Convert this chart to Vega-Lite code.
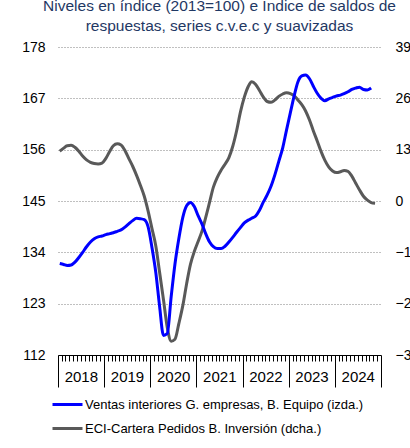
{
  "$schema": "https://vega.github.io/schema/vega-lite/v6.json",
  "width": 323,
  "height": 308,
  "autosize": {"type": "none"},
  "padding": {"left": 58, "top": 47, "right": 29, "bottom": 93},
  "background": "white",
  "config": {"font": "Liberation Sans", "view": {"stroke": null}},
  "title": {
    "text": ["Niveles en índice (2013=100) e Índice de saldos de", "respuestas, series c.v.e.c y suavizadas"],
    "fontSize": 15.5,
    "font": "Liberation Sans",
    "fontWeight": "normal",
    "color": "#1F3864",
    "lineHeight": 20,
    "anchor": "middle",
    "offset": 6
  },
  "data": {
    "values": [
      {"fecha": "2018-01-15", "ventas": 131.6, "eci": 12.6},
      {"fecha": "2018-02-15", "ventas": 131.4, "eci": 13.4},
      {"fecha": "2018-03-15", "ventas": 131.2, "eci": 14.0},
      {"fecha": "2018-04-15", "ventas": 131.3, "eci": 14.1},
      {"fecha": "2018-05-15", "ventas": 131.9, "eci": 13.6},
      {"fecha": "2018-06-15", "ventas": 132.9, "eci": 12.6},
      {"fecha": "2018-07-15", "ventas": 134.0, "eci": 11.4},
      {"fecha": "2018-08-15", "ventas": 135.2, "eci": 10.4},
      {"fecha": "2018-09-15", "ventas": 136.2, "eci": 9.8},
      {"fecha": "2018-10-15", "ventas": 136.9, "eci": 9.5},
      {"fecha": "2018-11-15", "ventas": 137.3, "eci": 9.4},
      {"fecha": "2018-12-15", "ventas": 137.5, "eci": 9.6},
      {"fecha": "2019-01-15", "ventas": 137.8, "eci": 10.8},
      {"fecha": "2019-02-15", "ventas": 138.0, "eci": 12.6},
      {"fecha": "2019-03-15", "ventas": 138.2, "eci": 14.0},
      {"fecha": "2019-04-15", "ventas": 138.5, "eci": 14.5},
      {"fecha": "2019-05-15", "ventas": 138.8, "eci": 14.2},
      {"fecha": "2019-06-15", "ventas": 139.4, "eci": 12.8},
      {"fecha": "2019-07-15", "ventas": 140.1, "eci": 10.8},
      {"fecha": "2019-08-15", "ventas": 140.8, "eci": 8.8},
      {"fecha": "2019-09-15", "ventas": 141.3, "eci": 6.5},
      {"fecha": "2019-10-15", "ventas": 141.2, "eci": 4.0},
      {"fecha": "2019-11-15", "ventas": 141.0, "eci": 1.2},
      {"fecha": "2019-12-15", "ventas": 139.5, "eci": -2.5},
      {"fecha": "2020-01-15", "ventas": 135.0, "eci": -7.0},
      {"fecha": "2020-02-15", "ventas": 129.5, "eci": -11.5},
      {"fecha": "2020-03-15", "ventas": 122.5, "eci": -18.0},
      {"fecha": "2020-04-15", "ventas": 116.2, "eci": -25.0},
      {"fecha": "2020-05-15", "ventas": 116.6, "eci": -32.0},
      {"fecha": "2020-06-15", "ventas": 124.5, "eci": -35.5},
      {"fecha": "2020-07-15", "ventas": 131.5, "eci": -35.0},
      {"fecha": "2020-08-15", "ventas": 137.0, "eci": -31.0},
      {"fecha": "2020-09-15", "ventas": 141.5, "eci": -26.5},
      {"fecha": "2020-10-15", "ventas": 144.0, "eci": -21.0},
      {"fecha": "2020-11-15", "ventas": 144.7, "eci": -16.0},
      {"fecha": "2020-12-15", "ventas": 143.8, "eci": -12.8},
      {"fecha": "2021-01-15", "ventas": 141.8, "eci": -10.2},
      {"fecha": "2021-02-15", "ventas": 140.0, "eci": -7.5},
      {"fecha": "2021-03-15", "ventas": 138.0, "eci": -4.2},
      {"fecha": "2021-04-15", "ventas": 136.2, "eci": -0.3},
      {"fecha": "2021-05-15", "ventas": 135.2, "eci": 3.5},
      {"fecha": "2021-06-15", "ventas": 134.8, "eci": 6.0},
      {"fecha": "2021-07-15", "ventas": 134.8, "eci": 7.8},
      {"fecha": "2021-08-15", "ventas": 135.3, "eci": 9.3},
      {"fecha": "2021-09-15", "ventas": 136.2, "eci": 11.0},
      {"fecha": "2021-10-15", "ventas": 137.2, "eci": 13.8},
      {"fecha": "2021-11-15", "ventas": 138.3, "eci": 17.8},
      {"fecha": "2021-12-15", "ventas": 139.3, "eci": 22.5},
      {"fecha": "2022-01-15", "ventas": 140.3, "eci": 26.3},
      {"fecha": "2022-02-15", "ventas": 140.9, "eci": 29.0},
      {"fecha": "2022-03-15", "ventas": 141.3, "eci": 30.2},
      {"fecha": "2022-04-15", "ventas": 141.8, "eci": 29.5},
      {"fecha": "2022-05-15", "ventas": 143.0, "eci": 28.0},
      {"fecha": "2022-06-15", "ventas": 144.8, "eci": 26.3},
      {"fecha": "2022-07-15", "ventas": 146.3, "eci": 25.2},
      {"fecha": "2022-08-15", "ventas": 148.2, "eci": 25.0},
      {"fecha": "2022-09-15", "ventas": 150.7, "eci": 25.6},
      {"fecha": "2022-10-15", "ventas": 153.5, "eci": 26.5},
      {"fecha": "2022-11-15", "ventas": 156.4, "eci": 27.1},
      {"fecha": "2022-12-15", "ventas": 160.2, "eci": 27.4},
      {"fecha": "2023-01-15", "ventas": 164.0, "eci": 27.2},
      {"fecha": "2023-02-15", "ventas": 167.7, "eci": 26.6},
      {"fecha": "2023-03-15", "ventas": 170.5, "eci": 25.6},
      {"fecha": "2023-04-15", "ventas": 171.8, "eci": 24.4},
      {"fecha": "2023-05-15", "ventas": 172.0, "eci": 22.8},
      {"fecha": "2023-06-15", "ventas": 171.2, "eci": 20.5},
      {"fecha": "2023-07-15", "ventas": 169.6, "eci": 17.8},
      {"fecha": "2023-08-15", "ventas": 168.1, "eci": 15.2},
      {"fecha": "2023-09-15", "ventas": 167.0, "eci": 12.5},
      {"fecha": "2023-10-15", "ventas": 166.5, "eci": 10.3},
      {"fecha": "2023-11-15", "ventas": 166.9, "eci": 8.6},
      {"fecha": "2023-12-15", "ventas": 167.2, "eci": 7.6},
      {"fecha": "2024-01-15", "ventas": 167.5, "eci": 7.2},
      {"fecha": "2024-02-15", "ventas": 167.7, "eci": 7.4},
      {"fecha": "2024-03-15", "ventas": 168.0, "eci": 7.7},
      {"fecha": "2024-04-15", "ventas": 168.4, "eci": 7.5},
      {"fecha": "2024-05-15", "ventas": 168.9, "eci": 6.3},
      {"fecha": "2024-06-15", "ventas": 169.2, "eci": 4.5},
      {"fecha": "2024-07-15", "ventas": 169.4, "eci": 2.8},
      {"fecha": "2024-08-15", "ventas": 168.9, "eci": 1.2},
      {"fecha": "2024-09-15", "ventas": 168.8, "eci": 0.2},
      {"fecha": "2024-10-15", "ventas": 169.2, "eci": -0.4},
      {"fecha": "2024-11-15", "ventas": null, "eci": -0.6}
    ]
  },
  "encoding": {
    "x": {
      "field": "fecha",
      "type": "temporal",
      "scale": {"type": "utc", "domain": ["2018-01-01", "2025-01-01"]},
      "axis": {
        "title": null,
        "tickCount": {"interval": "month", "step": 1},
        "tickSize": {"condition": {"test": "utcmonth(datum.value) === 0", "value": 32}, "value": 6},
        "tickColor": "#000000",
        "tickWidth": 1,
        "domainColor": "#000000",
        "domainWidth": 1,
        "labelExpr": "utcmonth(datum.value) === 6 ? utcFormat(datum.value, '%Y') : ''",
        "labelOverlap": false,
        "labelFlush": false,
        "labelFontSize": 15,
        "labelColor": "#000000",
        "labelPadding": 8,
        "labelBaseline": "top",
        "grid": false
      }
    }
  },
  "layer": [
    {
      "mark": {"type": "line", "interpolate": "monotone", "strokeWidth": 3},
      "encoding": {
        "y": {
          "field": "eci",
          "type": "quantitative",
          "scale": {"domain": [-39, 39], "nice": false, "zero": false},
          "axis": {
            "orient": "right",
            "values": [-39, -26, -13, 0, 13, 26, 39],
            "title": null,
            "domain": false,
            "ticks": false,
            "grid": false,
            "labelPadding": 14,
            "labelFontSize": 14,
            "labelColor": "#000000"
          }
        },
        "color": {
          "datum": "ECI-Cartera Pedidos B. Inversión (dcha.)",
          "type": "nominal",
          "scale": {
            "domain": ["Ventas interiores G. empresas, B. Equipo (izda.)", "ECI-Cartera Pedidos B. Inversión (dcha.)"],
            "range": ["#0000FF", "#595959"]
          },
          "legend": {
            "orient": "none",
            "legendX": -7,
            "legendY": 341,
            "title": null,
            "direction": "vertical",
            "symbolType": "stroke",
            "symbolSize": 900,
            "symbolStrokeWidth": 3,
            "labelFontSize": 13,
            "labelColor": "#000000",
            "labelOffset": 1,
            "labelLimit": 0,
            "rowPadding": -1,
            "padding": 0
          }
        }
      }
    },
    {
      "mark": {"type": "line", "interpolate": "monotone", "strokeWidth": 3},
      "encoding": {
        "y": {
          "field": "ventas",
          "type": "quantitative",
          "scale": {"domain": [112, 178], "nice": false, "zero": false},
          "axis": {
            "orient": "left",
            "values": [112, 123, 134, 145, 156, 167, 178],
            "title": null,
            "domain": false,
            "ticks": false,
            "grid": true,
            "gridDash": [1, 2],
            "gridColor": "#808080",
            "gridWidth": 1,
            "labelPadding": 13,
            "labelFontSize": 14,
            "labelColor": "#000000"
          }
        },
        "color": {"datum": "Ventas interiores G. empresas, B. Equipo (izda.)", "type": "nominal"}
      }
    }
  ],
  "resolve": {"scale": {"y": "independent"}}
}
